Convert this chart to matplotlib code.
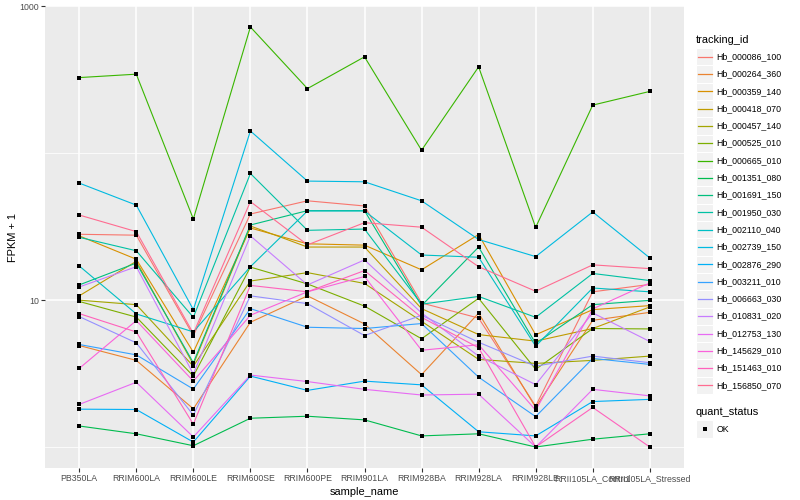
import matplotlib.pyplot as plt
import numpy as np
from matplotlib.patches import Rectangle
from matplotlib.lines import Line2D
from matplotlib.ticker import FixedLocator, FixedFormatter, NullFormatter

plt.rcParams['font.family'] = ['Liberation Sans', 'DejaVu Sans']

samples = ["PB350LA", "RRIM600LA", "RRIM600LE", "RRIM600SE", "RRIM600PE",
           "RRIM901LA", "RRIM928BA", "RRIM928LA", "RRIM928LE",
           "RRII105LA_Control", "RRII105LA_Stressed"]

# FPKM + 1, one list per gene
hb_000086_100 = [28.1, 27.7, 5.74, 38.6, 47.5, 43.8, 9.57, 7.55, 1.90, 11.4, 12.8]
hb_000264_360 = [4.91, 3.89, 1.82, 7.07, 10.7, 6.89, 3.11, 8.16, 1.86, 7.29, 8.26]
hb_000359_140 = [27.4, 19.0, 4.42, 31.0, 24.2, 23.7, 16.1, 28.0, 5.81, 8.62, 9.18]
hb_000418_070 = [10.7, 18.4, 3.65, 32.0, 23.0, 23.0, 8.76, 5.83, 5.26, 6.41, 8.99]
hb_000457_140 = [10.0, 9.32, 3.55, 13.5, 15.4, 13.0, 7.18, 3.95, 3.71, 3.89, 4.16]
hb_000525_010 = [9.8, 7.67, 3.04, 16.8, 12.9, 9.11, 5.46, 10.3, 3.38, 6.41, 6.37]
hb_000665_010 = [328, 346, 35.7, 725, 276, 454, 105, 388, 31.3, 213, 264]
hb_001351_080 = [1.39, 1.23, 1.02, 1.57, 1.62, 1.53, 1.19, 1.23, 1.0, 1.13, 1.23]
hb_001691_150 = [12.7, 17.9, 3.75, 32.5, 40.7, 40.7, 9.18, 23.0, 5.07, 9.32, 9.97]
hb_001950_030 = [26.8, 21.7, 7.64, 72.9, 29.9, 30.5, 9.39, 10.6, 7.64, 15.2, 13.6]
hb_002110_040 = [17.1, 8.06, 6.08, 16.9, 40.5, 40.5, 20.3, 19.6, 4.86, 12.1, 11.4]
hb_002739_150 = [62.7, 44.4, 8.62, 142, 64.7, 64.0, 47.5, 25.9, 19.8, 39.9, 19.4]
hb_002876_290 = [1.81, 1.80, 1.08, 3.04, 2.43, 2.81, 2.65, 1.27, 1.19, 2.04, 2.11]
hb_003211_010 = [4.99, 4.24, 2.48, 8.76, 6.54, 6.41, 6.93, 2.99, 1.61, 4.01, 3.65]
hb_006663_030 = [7.73, 5.12, 1.65, 10.7, 9.47, 5.74, 7.89, 5.17, 3.55, 4.16, 3.75]
hb_010831_020 = [12.3, 16.9, 3.14, 27.4, 12.7, 18.8, 8.19, 4.16, 2.66, 8.19, 5.23]
hb_012753_130 = [1.95, 2.76, 1.17, 3.09, 2.79, 2.47, 2.26, 2.29, 1.0, 2.47, 2.23]
hb_145629_010 = [3.43, 7.26, 2.81, 7.89, 11.4, 14.5, 4.56, 4.97, 1.78, 8.72, 13.1]
hb_151463_010 = [8.10, 6.07, 1.43, 12.6, 11.4, 15.9, 7.64, 4.74, 1.0, 1.86, 1.0]
hb_156850_070 = [38.0, 29.3, 5.93, 46.9, 23.8, 33.7, 31.4, 16.9, 11.5, 17.4, 16.4]

tracking_ids = ["Hb_000086_100", "Hb_000264_360", "Hb_000359_140", "Hb_000418_070",
                "Hb_000457_140", "Hb_000525_010", "Hb_000665_010", "Hb_001351_080",
                "Hb_001691_150", "Hb_001950_030", "Hb_002110_040", "Hb_002739_150",
                "Hb_002876_290", "Hb_003211_010", "Hb_006663_030", "Hb_010831_020",
                "Hb_012753_130", "Hb_145629_010", "Hb_151463_010", "Hb_156850_070"]
series = [hb_000086_100, hb_000264_360, hb_000359_140, hb_000418_070,
          hb_000457_140, hb_000525_010, hb_000665_010, hb_001351_080,
          hb_001691_150, hb_001950_030, hb_002110_040, hb_002739_150,
          hb_002876_290, hb_003211_010, hb_006663_030, hb_010831_020,
          hb_012753_130, hb_145629_010, hb_151463_010, hb_156850_070]

# ggplot hue palette for 20 levels
colors = ["#F8766D", "#EA8331", "#D89000", "#C09B00", "#A3A500", "#7CAE00",
          "#39B600", "#00BB4E", "#00BF7D", "#00C1A3", "#00BFC4", "#00BAE0",
          "#00B0F6", "#35A2FF", "#9590FF", "#C77CFF", "#E76BF3", "#FA62DB",
          "#FF62BC", "#FF6C91"]

W, H = 800, 500


def fx(px):
    return px / W


def fy(py):
    return 1 - py / H


fig = plt.figure(figsize=(8, 5), dpi=100)
ax = fig.add_axes([fx(45), fy(468), (684 - 45) / W, (468 - 6) / H])
ax.set_facecolor("#EBEBEB")

x = np.arange(len(samples))
for vals, col in zip(series, colors):
    ax.plot(x, vals, color=col, lw=0.8, zorder=2)
for vals in series:
    ax.plot(x, vals, "s", color="black", ms=2.9, mew=0, zorder=3)

ax.set_yscale("log")
allv = np.concatenate([np.array(s) for s in series])
lo, hi = np.log10(allv.min()), np.log10(allv.max())
pad = 0.05 * (hi - lo)
ax.set_ylim(10 ** (lo - pad), 10 ** (hi + pad))
ax.set_xlim(-0.6, len(samples) - 0.4)

ax.yaxis.set_major_locator(FixedLocator([10, 1000]))
ax.yaxis.set_major_formatter(FixedFormatter(["10", "1000"]))
ax.yaxis.set_minor_locator(FixedLocator([1, 100]))
ax.yaxis.set_minor_formatter(NullFormatter())
ax.set_xticks(x)
ax.set_xticklabels(samples)

ax.grid(which="major", color="white", lw=1.1)
ax.grid(which="minor", axis="y", color="white", lw=0.55)
ax.set_axisbelow(True)
for s in ax.spines.values():
    s.set_visible(False)
ax.tick_params(which="major", length=2.8, width=0.8, color="#333333",
               labelsize=6.3, labelcolor="#4D4D4D", pad=1.5)
ax.tick_params(which="minor", length=0)
ax.set_xlabel("sample_name", fontsize=7.9, labelpad=3)
ax.set_ylabel("FPKM + 1", fontsize=7.9, labelpad=1)

# legend drawn in ggplot style
fig.text(fx(696), fy(40), "tracking_id", fontsize=7.9, va="center", ha="left")
key = 17.3
for i, (tid, col) in enumerate(zip(tracking_ids, colors)):
    yc = 56.7 + i * key
    fig.add_artist(Rectangle((fx(696), fy(yc + key / 2)), key / W, key / H,
                             transform=fig.transFigure, facecolor="#F2F2F2",
                             edgecolor="white", lw=0.8))
    fig.add_artist(Line2D([fx(698), fx(712)], [fy(yc), fy(yc)],
                          transform=fig.transFigure, color=col, lw=0.9))
    fig.text(fx(716.5), fy(yc), tid, fontsize=6.3, va="center", ha="left")

fig.text(fx(696), fy(412.3), "quant_status", fontsize=7.9, va="center", ha="left")
fig.add_artist(Rectangle((fx(696), fy(429 + key / 2)), key / W, key / H,
                         transform=fig.transFigure, facecolor="#F2F2F2",
                         edgecolor="white", lw=0.8))
fig.add_artist(Line2D([fx(704.6)], [fy(429)], transform=fig.transFigure,
                      marker="s", color="black", ms=2.9, mew=0, ls="none"))
fig.text(fx(716.5), fy(429), "OK", fontsize=6.3, va="center", ha="left")

fig.savefig("out.png", dpi=100)
